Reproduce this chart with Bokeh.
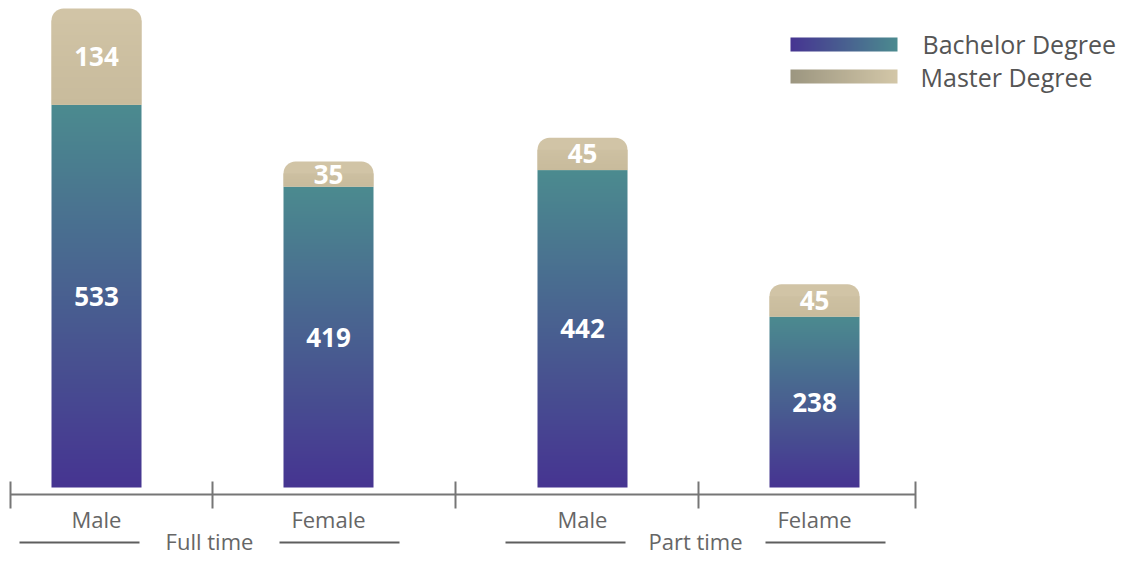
import numpy as np
from bokeh.plotting import figure
from bokeh.models import Range1d
from bokeh.core.properties import value
from bokeh.embed import file_html
from bokeh.resources import INLINE

# ---- data ----
group_names = ["Full time", "Part time"]
groups = ["Full time", "Full time", "Part time", "Part time"]
categories = ["Male", "Female", "Male", "Felame"]
bachelor = [533, 419, 442, 238]
master = [134, 35, 45, 45]
series_names = ["Bachelor Degree", "Master Degree"]

# ---- style ----
FONT = value("Open Sans")
BACH_BOTTOM = (70, 52, 145)
BACH_TOP = (75, 139, 143)
MAST_BOTTOM = (200, 187, 156)
MAST_TOP = (209, 196, 166)
LEG_MAST_LEFT = (156, 150, 128)
LEG_MAST_RIGHT = (211, 199, 168)
AXIS_COL = "#767676"
TEXT_COL = "#666666"

W, H = 1116, 557
SLOT = 232.0
GAP = 22.0 / SLOT
BAR_W = 90.0 / SLOT

totals = [b + m for b, m in zip(bachelor, master)]
BASE = 487.0                     # baseline, canvas px from top
k = (BASE - 8.0) / max(totals)   # px per value unit
x_start = -96.0 / SLOT
x_end = x_start + W / SLOT
y_end = BASE / k
y_start = -(H - BASE) / k


def dx(px):
    return px / SLOT


def dy(px):
    return px / k


def X(cx):
    return x_start + cx / SLOT


def Y(cy):
    return y_end - cy / k


def mix(c0, c1, t):
    return "#%02x%02x%02x" % tuple(int(round(a + (b - a) * t)) for a, b in zip(c0, c1))


def grad_img(c0, c1, n=256, vertical=True):
    t = (np.arange(n) + 0.5) / n
    if vertical:
        img = np.zeros((n, 2), dtype=np.uint32)
        v = img.view(dtype=np.uint8).reshape((n, 2, 4))
        for i in range(3):
            v[:, :, i] = np.round(c0[i] + (c1[i] - c0[i]) * t)[:, None].astype(np.uint8)
        v[:, :, 3] = 255
    else:
        img = np.zeros((2, n), dtype=np.uint32)
        v = img.view(dtype=np.uint8).reshape((2, n, 4))
        for i in range(3):
            v[:, :, i] = np.round(c0[i] + (c1[i] - c0[i]) * t)[None, :].astype(np.uint8)
        v[:, :, 3] = 255
    return img


p = figure(width=W, height=H, output_backend="svg", toolbar_location=None,
           x_range=Range1d(x_start, x_end), y_range=Range1d(y_start, y_end),
           x_axis_location=None, y_axis_location=None, min_border=0,
           outline_line_color=None, background_fill_color="white")
p.grid.visible = False

gidx = [group_names.index(g) for g in groups]
xs = [i + GAP * gi for i, gi in enumerate(gidx)]

# ---- bachelor gradient bars ----
bimg = grad_img(BACH_BOTTOM, BACH_TOP)
p.image_rgba(image=[bimg] * len(xs), x=[x - BAR_W / 2 for x in xs], y=[0] * len(xs),
             dw=[BAR_W] * len(xs), dh=bachelor)

# ---- master bars (rounded top, subtle gradient) ----
p.vbar(x=xs, width=BAR_W, bottom=bachelor, top=totals, fill_color=mix(MAST_BOTTOM, MAST_TOP, 1.0),
       line_color=None, border_radius=(12, 12, 0, 0))
mx, my, mh, mi = [], [], [], []
for x, b, m in zip(xs, bachelor, master):
    h = m - dy(12)
    if h > 0:
        mx.append(x - BAR_W / 2)
        my.append(b)
        mh.append(h)
        mi.append(grad_img(MAST_BOTTOM, tuple(a + (c - a) * h / m for a, c in zip(MAST_BOTTOM, MAST_TOP))))
p.image_rgba(image=mi, x=mx, y=my, dw=[BAR_W] * len(mx), dh=mh)

# ---- value labels ----
p.text(x=xs, y=[b / 2 for b in bachelor], text=[str(v) for v in bachelor],
       text_font=FONT, text_font_style="bold", text_font_size="26px", text_color="white",
       text_align="center", text_baseline="middle")
p.text(x=xs, y=[b + m / 2 for b, m in zip(bachelor, master)], text=[str(v) for v in master],
       text_font=FONT, text_font_style="bold", text_font_size="26px", text_color="white",
       text_align="center", text_baseline="middle")

# ---- custom axis ----
ticks = [xs[0] - dx(86)] + [(a + b) / 2 for a, b in zip(xs[:-1], xs[1:])] + [xs[-1] + dx(101)]
p.segment(x0=[ticks[0]], y0=[Y(494)], x1=[ticks[-1]], y1=[Y(494)], line_color=AXIS_COL, line_width=2)
p.segment(x0=ticks, y0=[Y(481)] * len(ticks), x1=ticks, y1=[Y(508)] * len(ticks),
          line_color=AXIS_COL, line_width=2)
p.text(x=xs, y=[Y(518)] * len(xs), text=categories, text_font=FONT, text_font_size="22px",
       text_color=TEXT_COL, text_align="center", text_baseline="middle")

# group labels with side lines
gc = []
for gname in group_names:
    members = [x for x, g in zip(xs, groups) if g == gname]
    gc.append((members[0] + members[-1]) / 2 - dx(3))
p.text(x=gc, y=[Y(540)] * len(gc), text=group_names, text_font=FONT, text_font_size="22px",
       text_color=TEXT_COL, text_align="center", text_baseline="middle")
x0s, x1s = [], []
for c in gc:
    x0s += [c - dx(190), c + dx(70)]
    x1s += [c - dx(70), c + dx(190)]
p.segment(x0=x0s, y0=[Y(542)] * len(x0s), x1=x1s, y1=[Y(542)] * len(x0s),
          line_color="#5e5e5e", line_width=2)

# ---- legend ----
leg_imgs = [grad_img(BACH_BOTTOM, BACH_TOP, vertical=False),
            grad_img(LEG_MAST_LEFT, LEG_MAST_RIGHT, vertical=False)]
p.image_rgba(image=leg_imgs, x=[X(790), X(790)], y=[Y(51), Y(83)],
             dw=[dx(107), dx(107)], dh=[dy(14), dy(14)])
p.text(x=[X(922), X(920)], y=[Y(43), Y(76)], text=series_names, text_font=FONT,
       text_font_size="25px", text_color="#555555", text_align="left", text_baseline="middle")

open("out.html", "w").write(file_html(p, INLINE))
